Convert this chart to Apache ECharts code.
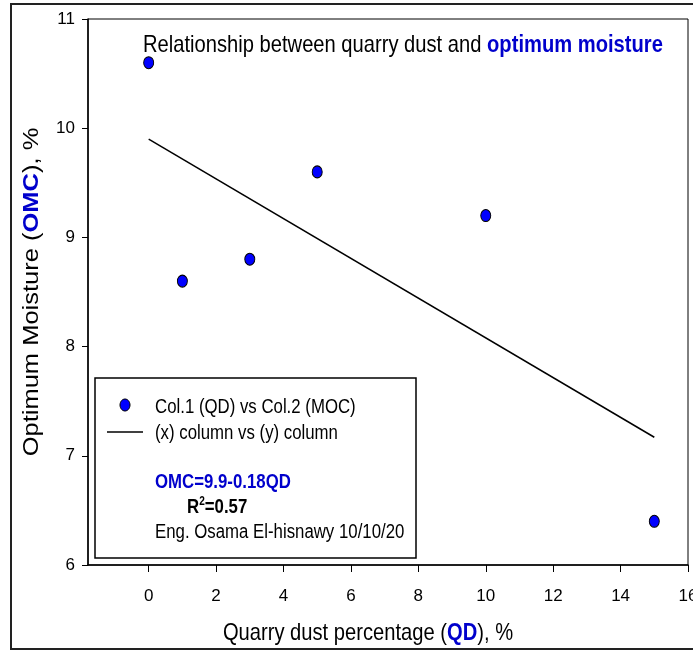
<!DOCTYPE html>
<html>
<head>
<meta charset="utf-8">
<style type="text/css">
body{margin:0; background:#fff}
#chart{width:693px; height:652px}
</style>
<script src="https://cdn.jsdelivr.net/npm/echarts@6/dist/echarts.min.js"></script>
</head>
<body>
<div id="chart"></div>
<script type="text/javascript">
// measured points: quarry dust % vs optimum moisture %
var qdValues = [0, 1, 3, 5, 10, 15];
var omcValues = [10.6, 8.6, 8.8, 9.6, 9.2, 6.4];
// fitted line end points (OMC = 9.9 - 0.18 QD)
var fitX = [0, 15];
var fitY = [9.9, 7.17];
var xTicks = [0, 2, 4, 6, 8, 10, 12, 14, 16];

var sans = "'Liberation Sans', Arial, sans-serif";
var blue = '#0000cc';
var squeeze = 0.84;   // the original looks like Arial Narrow

var points = qdValues.map(function (x, i) { return [x, omcValues[i]]; });
var fitLine = fitX.map(function (x, i) { return [x, fitY[i]]; });

function label(x, y, text, font, color, extra) {
    var el = {
        type: 'text', x: x, y: y, scaleX: squeeze,
        style: {text: text, font: font + ' ' + sans, fill: color, verticalAlign: 'middle'}
    };
    if (extra) {
        for (var k in extra) el.style[k] = extra[k];
    }
    return el;
}

var chart = echarts.init(document.getElementById('chart'));
var option = {
    animation: false,
    backgroundColor: '#fff',
    grid: {
        left: 88,
        right: 5,
        top: 19,
        bottom: 87,
        outerBoundsMode: 'none',
        show: true,
        borderColor: '#000',
        borderWidth: 1
    },
    xAxis: {
        type: 'value',
        min: -1.8,
        max: 16,
        splitLine: {show: false},
        axisLine: {show: true, onZero: false, lineStyle: {color: '#000', width: 1.5}},
        axisTick: {show: true, length: 7, customValues: xTicks, lineStyle: {color: '#000'}},
        axisLabel: {customValues: xTicks, margin: 23, fontFamily: sans, fontSize: 17, color: '#000',
            hideOverlap: false}
    },
    yAxis: {
        type: 'value',
        min: 6,
        max: 11,
        interval: 1,
        splitLine: {show: false},
        axisLine: {show: true, onZero: false, lineStyle: {color: '#000', width: 1.5}},
        axisTick: {show: true, length: 6, lineStyle: {color: '#000'}},
        axisLabel: {margin: 13, fontFamily: sans, fontSize: 17, color: '#000'}
    },
    series: [
        {
            name: 'Col.1 (QD) vs Col.2 (MOC)',
            type: 'scatter',
            symbol: 'circle',
            symbolSize: [10, 12],
            itemStyle: {color: '#0000ff', borderColor: '#000', borderWidth: 1, opacity: 1},
            data: points,
            z: 3
        },
        {
            name: '(x) column vs (y) column',
            type: 'line',
            showSymbol: false,
            lineStyle: {color: '#000', width: 1.5},
            data: fitLine,
            z: 2
        }
    ],
    graphic: [
        {
            type: 'rect', z: 100,
            shape: {x: 11, y: 4, width: 700, height: 645},
            style: {fill: null, stroke: '#222', lineWidth: 2}
        },
        // title
        label(143, 45, 'Relationship between quarry dust and {b|optimum moisture}', '24px', '#000', {
            rich: {b: {fontFamily: sans, fontSize: 24, fontWeight: 'bold', fill: blue}}
        }),
        // x axis name
        label(368, 633, '{a|Quarry dust percentage (}{b|QD}{a|), %}', '24px', '#000', {
            align: 'center',
            rich: {
                a: {fontFamily: sans, fontSize: 24, fill: '#000'},
                b: {fontFamily: sans, fontSize: 24, fontWeight: 'bold', fill: blue}
            }
        }),
        // y axis name, squeezed across its thickness
        {
            type: 'text', x: 32, y: 292, rotation: Math.PI / 2, scaleY: squeeze,
            style: {
                text: '{a|Optimum Moisture (}{b|OMC}{a|), %}',
                align: 'center', verticalAlign: 'middle',
                rich: {
                    a: {fontFamily: sans, fontSize: 25.5, fill: '#000'},
                    b: {fontFamily: sans, fontSize: 25.5, fontWeight: 'bold', fill: blue}
                }
            }
        },
        {
            type: 'group', z: 100,
            children: [
                {type: 'rect', shape: {x: 95, y: 378, width: 321, height: 180},
                    style: {fill: '#fff', stroke: '#000', lineWidth: 1.5}},
                {type: 'ellipse', shape: {cx: 125, cy: 405, rx: 5, ry: 6},
                    style: {fill: '#0000ff', stroke: '#000', lineWidth: 1}},
                label(155, 407, 'Col.1 (QD) vs Col.2 (MOC)', '20px', '#000'),
                {type: 'line', shape: {x1: 107, y1: 432, x2: 143, y2: 432},
                    style: {stroke: '#000', lineWidth: 1.5}},
                label(155, 433, '(x) column vs (y) column', '20px', '#000'),
                label(155, 482, 'OMC=9.9-0.18QD', 'bold 20px', blue),
                label(187, 507, 'R{s|2}=0.57', 'bold 20px', '#000', {
                    rich: {s: {fontFamily: sans, fontWeight: 'bold', fontSize: 12, verticalAlign: 'top', padding: [0, 0, 10, 0]}}
                }),
                label(155, 532, 'Eng. Osama El-hisnawy 10/10/20', '20px', '#000')
            ]
        }
    ]
};
chart.setOption(option);
</script>
</body>
</html>
